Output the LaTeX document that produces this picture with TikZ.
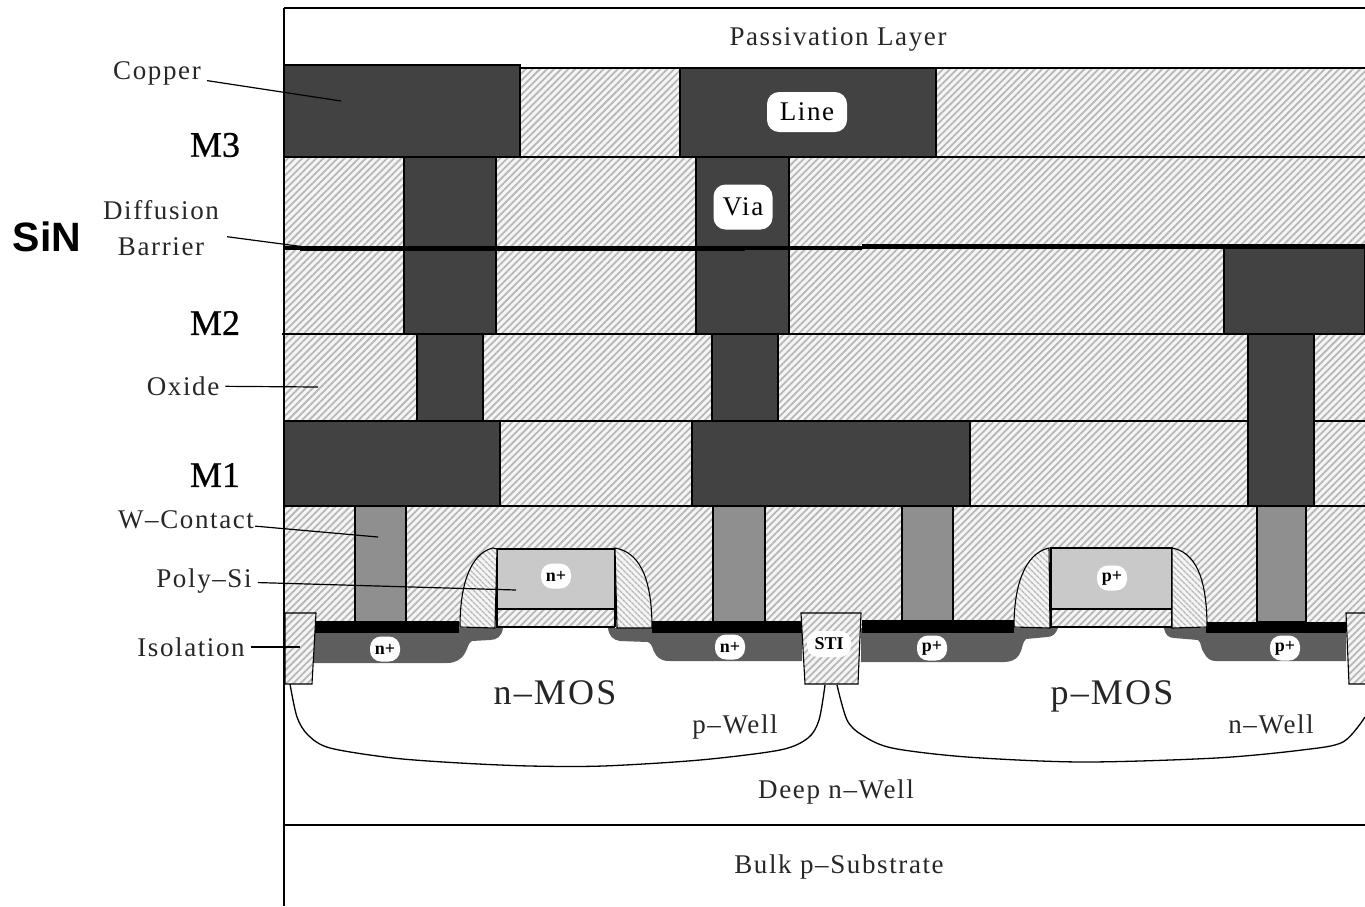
\documentclass[tikz,border=0pt]{standalone}
\usepackage{fontspec}
\setmainfont{Liberation Serif}
\newfontfamily\sinfont{Liberation Sans}
\newfontfamily\widefont[LetterSpace=6]{Liberation Serif}
\newfontfamily\levelfont[FakeBold=0.7]{Liberation Serif}
\usetikzlibrary{patterns.meta}

\definecolor{metalgray}{gray}{0.26}
\definecolor{contactgray}{gray}{0.56}
\definecolor{polygray}{gray}{0.79}
\definecolor{dopegray}{gray}{0.37}
\definecolor{hatchgray}{gray}{0.72}
\definecolor{inkgray}{gray}{0.15}

\begin{document}
\begin{tikzpicture}[x=1pt,y=-1pt]

% Define block styles
\tikzstyle{oxide} = [preaction={fill=gray!8}, pattern={Lines[angle=45,distance=5pt,line width=1.8pt]}, pattern color=hatchgray]
\tikzstyle{spacer} = [draw=black, line width=1.1pt, preaction={fill=gray!8}, pattern={Lines[angle=-45,distance=4pt,line width=1.5pt]}, pattern color=hatchgray]
\tikzstyle{isolate} = [draw=black, line width=1.1pt, preaction={fill=gray!8}, pattern={Lines[angle=45,distance=5pt,line width=1.8pt]}, pattern color=hatchgray]
\tikzstyle{metal} = [draw=black, line width=1.2pt, fill=metalgray]
\tikzstyle{plug} = [draw=black, line width=1.2pt, fill=contactgray]
\tikzstyle{dope} = [fill=dopegray]
\tikzstyle{silicide} = [fill=black]
\tikzstyle{layerline} = [draw=black, line width=1.2pt]
\tikzstyle{label} = [text=inkgray, font=\widefont\fontsize{27}{27}\selectfont, inner sep=6pt]
\tikzstyle{level} = [text=black, font=\levelfont\fontsize{36}{36}\selectfont]
\tikzstyle{mos} = [text=inkgray, anchor=base, font=\widefont\fontsize{36}{36}\selectfont]
\tikzstyle{tag} = [fill=white, rounded corners=12pt, inner sep=0pt, text=black, font=\widefont\fontsize{27}{27}\selectfont]
\tikzstyle{dopetag} = [fill=white, rounded corners=11pt, inner sep=0pt, minimum width=30pt, minimum height=25pt, text=black, font=\bfseries\fontsize{18}{18}\selectfont]
\tikzstyle{leader} = [draw=black, line width=1.2pt]

\useasboundingbox (0,0) rectangle (1365,906);
\clip (0,0) rectangle (1365,906);

% Oxide body
\fill [oxide] (284,68) rectangle (1365,627);

% Layer lines
\draw [layerline] (284,8) -- (1365,8);
\draw [layerline] (284,68) -- (1365,68);
\draw [layerline] (284,157) -- (1365,157);
\draw [layerline] (282,334) -- (1365,334);
\draw [layerline, line width=2.6pt] (284,421) -- (1365,421);
\draw [layerline, line width=1.8pt] (284,506) -- (1365,506);
\draw [layerline] (284,825) -- (1365,825);

% Metal lines and vias
\draw [metal] (284,65) rectangle (520,157);
\draw [metal] (680,68) rectangle (936,157);
\draw [metal] (404,157) rectangle (496,334);
\draw [metal] (696,157) rectangle (789,334);
\draw [metal] (1224,248) rectangle (1365,334);
\draw [metal] (417,334) rectangle (483,421);
\draw [metal] (712,334) rectangle (778,421);
\draw [metal] (1248,334) rectangle (1314,506);
\draw [metal] (284,421) rectangle (500,506);
\draw [metal] (692,421) rectangle (970,506);

% Diffusion barrier
\fill [black] (300,245.5) rectangle (745,251);
\fill [black] (284,246) rectangle (862,250);
\fill [black] (862,243.5) rectangle (1365,249);

% Contacts
\draw [plug] (355,506) rectangle (406,622);
\draw [plug] (713,506) rectangle (765,622);
\draw [plug] (902,506) rectangle (953,622);
\draw [plug] (1257,506) rectangle (1306,622);

% Doped regions
\fill [dope] (314,628) -- (503,628) .. controls (502,636) and (497,640) .. (490,640) -- (472,641) .. controls (468,643) and (468,648) .. (465,653) .. controls (461,660) and (455,663) .. (447,663) -- (314,663) -- cycle;
\fill [dope] (802,628) -- (608,628) .. controls (609,636) and (613,640) .. (620,641) -- (648,642) .. controls (653,644) and (652,650) .. (656,655) .. controls (660,660) and (664,661) .. (670,661) -- (802,661) -- cycle;
\fill [dope] (861,628) -- (1058,628) .. controls (1056,634) and (1052,637) .. (1047,637) -- (1026,639) .. controls (1022,642) and (1023,649) .. (1019,655) .. controls (1016,660) and (1010,662) .. (1004,662) -- (861,662) -- cycle;
\fill [dope] (1346,628) -- (1164,628) .. controls (1165,634) and (1168,638) .. (1174,638) -- (1198,640) .. controls (1202,643) and (1200,648) .. (1204,653) .. controls (1207,659) and (1211,661) .. (1216,661) -- (1346,661) -- cycle;

% Silicide
\fill [silicide] (315,621) rectangle (459,633);
\fill [silicide] (652,621) rectangle (802,633);
\fill [silicide] (862,620) rectangle (1014,633);
\fill [silicide] (1206,622) rectangle (1346,633);

% Gate bottom line
\draw [layerline] (496,627) -- (615,627);
\draw [layerline] (1050,627) -- (1172,627);

% Gates
\draw [plug, fill=polygray] (497,549) rectangle (615,609);
\draw [plug, fill=polygray] (1051,548) rectangle (1172,609);
\draw [layerline] (497,609) -- (497,627) (615,609) -- (615,627);
\draw [layerline] (1051,609) -- (1051,627) (1172,609) -- (1172,627);

% Spacers
\draw [spacer] (493,548) .. controls (475,552) and (460,575) .. (460,627) -- (495,628) -- (497,549) -- cycle;
\draw [spacer] (615,548) .. controls (638,552) and (652,575) .. (652,628) -- (617,628) -- cycle;
\draw [spacer] (1049,548) .. controls (1030,552) and (1014,575) .. (1014,627) -- (1050,628) -- cycle;
\draw [spacer] (1172,548) .. controls (1194,552) and (1207,575) .. (1207,627) -- (1172,628) -- cycle;

% Isolation
\draw [isolate] (285,613) -- (316,613) -- (312,684) -- (285,684) -- cycle;
\draw [isolate] (801,613) -- (861,613) -- (858,684) -- (805,684) -- cycle;
\draw [isolate] (1346,613) -- (1370,613) -- (1370,684) -- (1349,684) -- cycle;

% Wells
\draw [line width=1.3pt] plot [smooth] coordinates {(290,684) (297,717) (308,735) (330,748) (393,758) (460,763) (530,766) (603,766) (700,760) (780,750) (808,738) (819,720) (825,685)};
\draw [line width=1.3pt] plot [smooth] coordinates {(837,685) (847,720) (862,735) (892,748) (967,757) (1082,762) (1216,758) (1302,750) (1343,742) (1365,717)};

% Frame
\draw [line width=1.4pt] (284,8) -- (284,906);

% Nodes
\node (passivation) [label] at (838,39) {Passivation Layer};
\node (copper) [label] at (157,73) {Copper};
\node (m3) [level] at (215,145) {M3};
\node (line) [tag, minimum width=80pt, minimum height=40pt] at (807,112) {Line};
\node (via) [tag, minimum width=59pt, minimum height=45pt] at (743,207) {Via};
\node (sin) [font=\sinfont\bfseries\fontsize{41}{41}\selectfont] at (47,237) {SiN};
\node (diffusion) [label, align=center, font=\widefont\fontsize{27}{36}\selectfont, inner sep=8pt] at (161,228) {Diffusion\\Barrier};
\node (m2) [level] at (215,323) {M2};
\node (oxidelabel) [label] at (183,386) {Oxide};
\node (m1) [level] at (215,475) {M1};
\node (wcontact) [label, inner sep=1pt] at (186,520) {W–Contact};
\node (polysi) [label] at (204,581) {Poly–Si};
\node (isolation) [label] at (191,647) {Isolation};
\node (ngate) [dopetag] at (556,576) {n+};
\node (nsource) [dopetag] at (385,649) {n+};
\node (ndrain) [dopetag] at (730,647) {n+};
\node (pgate) [dopetag] at (1112,578) {p+};
\node (psource) [dopetag] at (932,648) {p+};
\node (pdrain) [dopetag] at (1285,648) {p+};
\node (sti) [dopetag, minimum width=44pt, minimum height=26pt] at (829,644) {STI};
\node (nmos) [mos] at (555,704) {n–MOS};
\node (pmos) [mos] at (1112,704) {p–MOS};
\node (pwell) [label, anchor=base] at (735,733) {p–Well};
\node (nwell) [label, anchor=base] at (1271,733) {n–Well};
\node (deep) [label] at (836,792) {Deep n–Well};
\node (bulk) [label] at (839,867) {Bulk p–Substrate};

% Leader ends
\coordinate (copperend) at (341,101);
\coordinate (barrierend) at (305,247);
\coordinate (oxideend) at (318,387);
\coordinate (contactend) at (378,537);
\coordinate (polyend) at (516,590);
\coordinate (isolationend) at (300,647);

% Leaders
\draw [leader] (copper) -- (copperend);
\draw [leader] (diffusion) -- (barrierend);
\draw [leader] (oxidelabel) -- (oxideend);
\draw [leader] (wcontact) -- (contactend);
\draw [leader] (polysi) -- (polyend);
\draw [leader] (isolation) -- (isolationend);

\end{tikzpicture}
\end{document}
